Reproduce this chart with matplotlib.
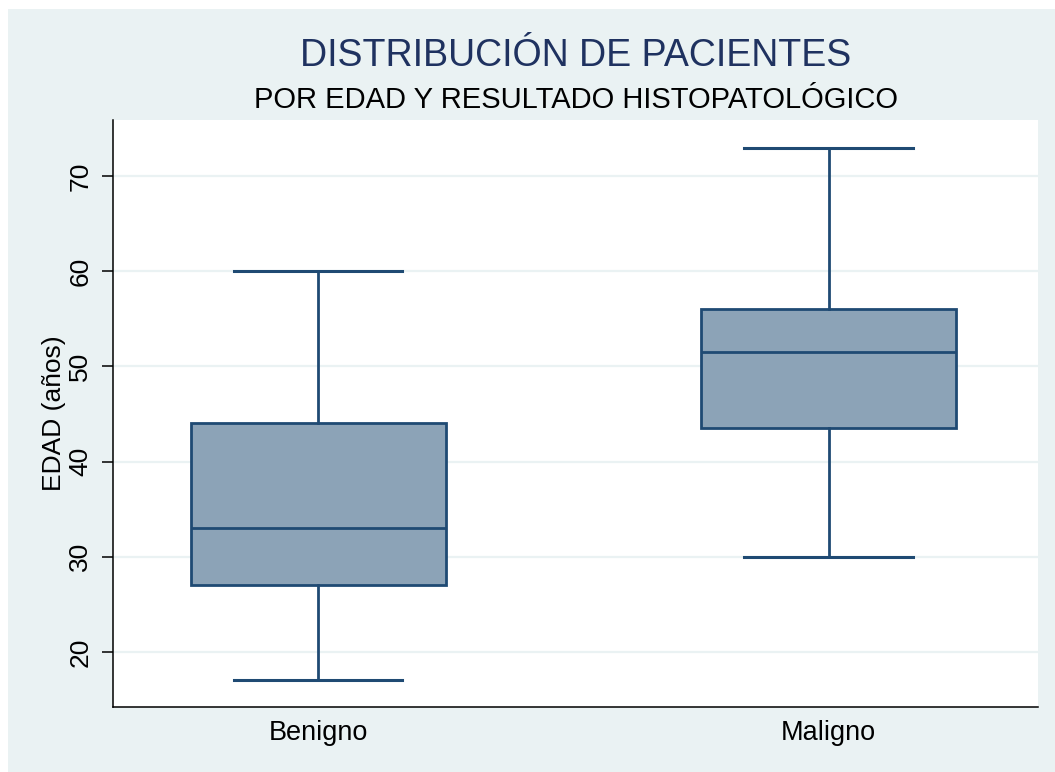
import matplotlib.pyplot as plt
from matplotlib.patches import Rectangle

plt.rcParams['font.family'] = ['Liberation Sans', 'DejaVu Sans']

# datos (edad en años)
grupos = ['Benigno', 'Maligno']
minimos = [17, 30]
q1 = [27, 43.5]
medianas = [33, 51.5]
q3 = [44, 56]
maximos = [60, 73]

stats = []
for g, lo, a, m, b, hi in zip(grupos, minimos, q1, medianas, q3, maximos):
    stats.append({'label': g, 'whislo': lo, 'q1': a, 'med': m, 'q3': b, 'whishi': hi, 'fliers': []})

fig = plt.figure(figsize=(10.55, 7.72), dpi=100)
fig.patch.set_facecolor('white')
fig.patches.append(Rectangle((8 / 1055, 0), 1, 1 - 9 / 772, transform=fig.transFigure,
                             facecolor='#EAF2F3', edgecolor='none', zorder=-10))

ax = fig.add_axes([113 / 1055, 1 - 707 / 772, (1038 - 113) / 1055, (707 - 120) / 772])
ax.set_facecolor('white')

edge = '#1F4A73'
ax.bxp(stats, positions=[1, 2], widths=0.5, capwidths=0.33, patch_artist=True, showfliers=False,
       boxprops=dict(facecolor='#8CA3B7', edgecolor=edge, linewidth=2),
       medianprops=dict(color=edge, linewidth=2),
       whiskerprops=dict(color=edge, linewidth=2),
       capprops=dict(color=edge, linewidth=2.2))

ax.set_xlim(0.598, 2.41)
ax.set_ylim(14.2, 75.9)
ax.set_yticks([20, 30, 40, 50, 60, 70])
ax.yaxis.grid(True, color='#EAF2F3', linewidth=1.6)
ax.set_axisbelow(True)

for s in ['top', 'right']:
    ax.spines[s].set_visible(False)
ax.spines['left'].set_linewidth(1.1)
ax.spines['bottom'].set_linewidth(1.1)

ax.tick_params(axis='y', length=8, width=1.1, labelsize=19, pad=7)
ax.tick_params(axis='x', length=0, labelsize=19.5, pad=9)
for lbl in ax.get_yticklabels():
    lbl.set_rotation(90)
    lbl.set_va('center')

ax.set_ylabel('EDAD (años)', fontsize=19, labelpad=1.5)

fig.text(576 / 1055, 1 - 56 / 772, 'DISTRIBUCIÓN DE PACIENTES', ha='center', va='center',
         fontsize=27, color='#1F3260')
fig.text(576 / 1055, 1 - 100 / 772, 'POR EDAD Y RESULTADO HISTOPATOLÓGICO', ha='center', va='center',
         fontsize=21, color='black')

fig.savefig('out.png', dpi=100)
